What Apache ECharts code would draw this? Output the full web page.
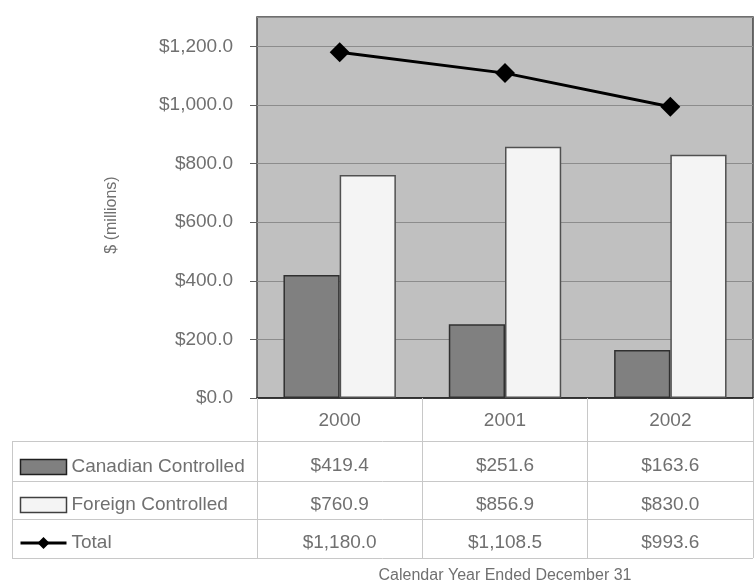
<!DOCTYPE html>
<html>
<head>
<meta charset="utf-8">
<script src="https://cdn.jsdelivr.net/npm/echarts@6/dist/echarts.min.js"></script>
<style>
html,body{margin:0;padding:0;background:#fff;}
#main{width:754px;height:582px;}
</style>
</head>
<body>
<div id="main"></div>
<script>
// data
var years = ['2000', '2001', '2002'];
var canadian = [419.4, 251.6, 163.6];
var foreign = [760.9, 856.9, 830.0];
var total = [1180.0, 1108.5, 993.6];

var txtColor = '#707070';
var tableLine = '#c8c8c8';

// $1,234.5 style
function fmt(v){
	var s = v.toFixed(1);
	var p = s.split('.');
	p[0] = p[0].replace(/\B(?=(\d{3})+(?!\d))/g, ',');
	return '$' + p[0] + '.' + p[1];
}

function rowAxis(vals, off){
	return {
		type: 'category',
		gridIndex: 0,
		position: 'bottom',
		offset: off,
		data: vals.map(fmt),
		axisLine: {show: false},
		axisTick: {show: false},
		splitLine: {show: false},
		axisLabel: {
			color: txtColor,
			fontFamily: 'Liberation Sans',
			fontSize: 19,
			lineHeight: 20,
			margin: 13
		}
	};
}

var myChart = echarts.init(document.getElementById('main'));

var option = {
	animation: false,
	grid: {
		left: 257,
		top: 17,
		width: 496,
		height: 381,
		outerBoundsMode: 'none',
		show: true,
		backgroundColor: '#c0c0c0',
		borderColor: '#404040',
		borderWidth: 1.5
	},
	legend: {
		orient: 'vertical',
		left: 19,
		top: 457,
		padding: 0,
		itemWidth: 46,
		itemHeight: 15,
		itemGap: 18,
		data: [
			{name: 'Canadian Controlled', icon: 'rect', itemStyle: {borderColor: '#202020', borderWidth: 1.5}},
			{name: 'Foreign Controlled', icon: 'rect', itemStyle: {borderColor: '#404040', borderWidth: 1.5}},
			{name: 'Total', lineStyle: {width: 3, color: '#000'}}
		],
		textStyle: {
			color: txtColor,
			fontFamily: 'Liberation Sans',
			fontSize: 19,
			lineHeight: 20
		}
	},
	xAxis: [
		{
			type: 'category',
			data: years,
			name: 'Calendar Year Ended December 31',
			nameLocation: 'middle',
			nameGap: 170,
			nameMoveOverlap: false,
			nameTextStyle: {
				color: txtColor,
				fontFamily: 'Liberation Sans',
				fontSize: 16
			},
			axisLine: {lineStyle: {color: '#202020', width: 1.5}},
			axisTick: {
				show: true,
				interval: 0,
				length: 160,
				lineStyle: {color: tableLine, width: 1}
			},
			axisLabel: {
				color: txtColor,
				fontFamily: 'Liberation Sans',
				fontSize: 19,
				lineHeight: 20,
				margin: 13
			}
		},
		rowAxis(canadian, 45),
		rowAxis(foreign, 84),
		rowAxis(total, 122)
	],
	yAxis: {
		type: 'value',
		min: 0,
		max: 1300,
		interval: 200,
		name: '$ (millions)',
		nameLocation: 'middle',
		nameRotate: 90,
		nameGap: 137,
		nameMoveOverlap: false,
		nameTextStyle: {
			color: txtColor,
			fontFamily: 'Liberation Sans',
			fontSize: 16,
			padding: [0, 15, 0, 0]
		},
		axisLine: {show: false},
		axisTick: {show: true, length: 7, lineStyle: {color: '#606060'}},
		splitLine: {show: true, lineStyle: {color: '#8c8c8c', width: 1}},
		axisLabel: {
			showMaxLabel: false,
			color: txtColor,
			fontFamily: 'Liberation Sans',
			fontSize: 19,
			margin: 24,
			formatter: function(v){ return v > 1200 ? '' : fmt(v); }
		}
	},
	series: [
		{
			name: 'Canadian Controlled',
			type: 'bar',
			barGap: '0%',
			barCategoryGap: '32%',
			data: canadian,
			itemStyle: {color: '#808080', borderColor: '#303030', borderWidth: 1.5}
		},
		{
			name: 'Foreign Controlled',
			type: 'bar',
			data: foreign,
			itemStyle: {color: '#f4f4f4', borderColor: '#505050', borderWidth: 1.5}
		},
		{
			name: 'Total',
			type: 'line',
			data: total,
			symbol: 'diamond',
			symbolSize: 20,
			lineStyle: {color: '#000', width: 3},
			itemStyle: {color: '#000'}
		}
	],
	// table borders
	graphic: [
		{type: 'line', shape: {x1: 12, y1: 441.5, x2: 753, y2: 441.5}, style: {stroke: tableLine, lineWidth: 1}},
		{type: 'line', shape: {x1: 12, y1: 481.5, x2: 753, y2: 481.5}, style: {stroke: tableLine, lineWidth: 1}},
		{type: 'line', shape: {x1: 12, y1: 519.5, x2: 753, y2: 519.5}, style: {stroke: tableLine, lineWidth: 1}},
		{type: 'line', shape: {x1: 12, y1: 558.5, x2: 753, y2: 558.5}, style: {stroke: tableLine, lineWidth: 1}},
		{type: 'line', shape: {x1: 12.5, y1: 441.5, x2: 12.5, y2: 558.5}, style: {stroke: tableLine, lineWidth: 1}}
	]
};

myChart.setOption(option);
</script>
</body>
</html>
